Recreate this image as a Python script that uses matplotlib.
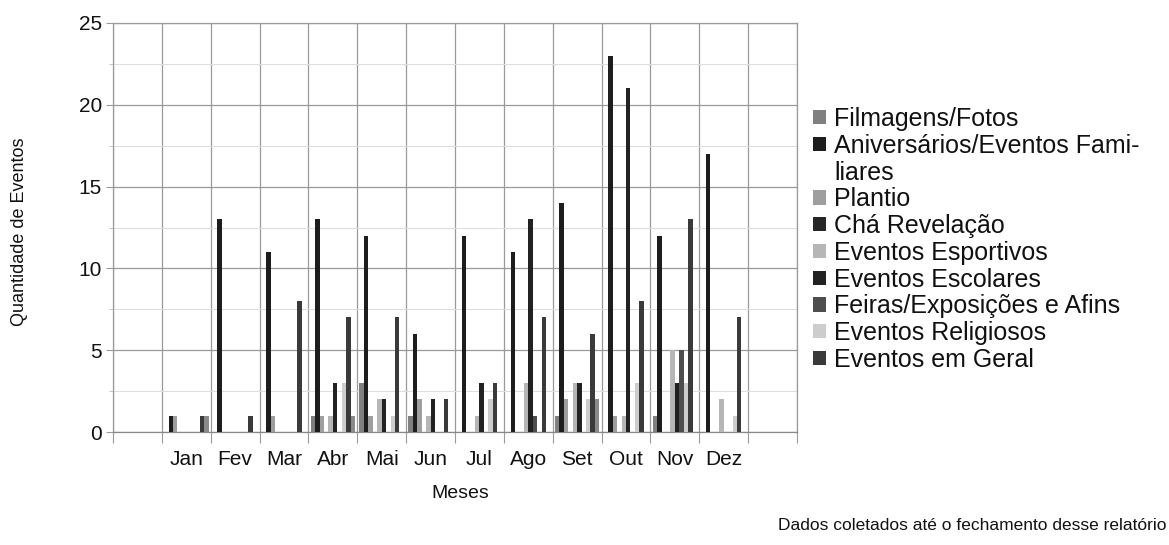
import numpy as np
import matplotlib
matplotlib.use("Agg")
import matplotlib.pyplot as plt
from matplotlib.patches import Rectangle

plt.rcParams['font.family'] = ['Liberation Sans', 'DejaVu Sans']

months = ["Jan", "Fev", "Mar", "Abr", "Mai", "Jun", "Jul", "Ago", "Set", "Out", "Nov", "Dez"]

series_names = ["Filmagens/Fotos", "Aniversários/Eventos Familiares", "Plantio", "Chá Revelação",
                "Eventos Esportivos", "Eventos Escolares", "Feiras/Exposições e Afins",
                "Eventos Religiosos", "Eventos em Geral"]

filmagens   = [0, 0, 0, 1, 3, 1, 0, 0, 1, 0, 1, 0]
aniversarios = [1, 13, 11, 13, 12, 6, 12, 11, 14, 23, 12, 17]
plantio     = [1, 0, 1, 1, 1, 2, 0, 0, 2, 1, 0, 0]
cha_revelacao = [0, 0, 0, 0, 0, 0, 0, 0, 0, 0, 0, 0]
esportivos  = [0, 0, 0, 1, 2, 1, 1, 3, 3, 1, 5, 2]
escolares   = [0, 0, 0, 3, 2, 2, 3, 13, 3, 21, 3, 0]
feiras      = [0, 0, 0, 0, 0, 0, 0, 1, 0, 0, 5, 0]
religiosos  = [0, 0, 0, 3, 1, 0, 2, 0, 2, 3, 3, 1]
geral       = [1, 1, 8, 7, 7, 2, 3, 7, 6, 8, 13, 7]
# a tenth, unlabeled series visible in the chart (not in the legend)
sem_legenda = [1, 0, 0, 1, 0, 0, 0, 0, 2, 0, 0, 0]

series_values = [filmagens, aniversarios, plantio, cha_revelacao, esportivos, escolares,
                 feiras, religiosos, geral, sem_legenda]
colors = ["#808080", "#1d1d1d", "#9e9e9e", "#262626", "#b6b6b6", "#222222",
          "#4e4e4e", "#cdcdcd", "#3a3a3a", "#8a8a8a"]

W, H = 1169, 545
fig = plt.figure(figsize=(W / 100, H / 100), dpi=100)
ax = fig.add_axes([113 / W, 1 - 432 / H, (797 - 113) / W, (432 - 23) / H])

x = np.arange(1, 13)
n = len(series_values)
w = 4.45 / 48.9
bars = []
for k, (vals, c) in enumerate(zip(series_values, colors)):
    b = ax.bar(x + (k - (n - 1) / 2) * w, vals, width=w, color=c, zorder=3, linewidth=0)
    bars.append(b)

ax.set_xlim(-0.5, 13.5)
ax.set_ylim(0, 25)

grid_c = "#9a9a9a"
ax.set_yticks(np.arange(0, 26, 5))
ax.set_yticks(np.arange(2.5, 25, 5), minor=True)
ax.set_xticks(np.arange(-0.5, 14, 1))
ax.set_xticklabels([])
ax.set_xticks(x, minor=True)
ax.set_xticklabels(months, minor=True, fontsize=15, color="#111111")
ax.tick_params(axis='x', which='major', length=8, color=grid_c, direction='out')
ax.tick_params(axis='x', which='minor', length=0, pad=13)
ax.tick_params(axis='y', which='major', length=5, color=grid_c, labelsize=15, pad=3, labelcolor="#111111")
ax.tick_params(axis='y', which='minor', length=3, color="#bbbbbb")

ax.grid(True, which='major', axis='both', color=grid_c, linewidth=0.9, zorder=0)
ax.grid(True, which='minor', axis='y', color="#dedede", linewidth=0.8, zorder=0)
for s in ax.spines.values():
    s.set_color(grid_c)
    s.set_linewidth(0.9)
ax.spines['bottom'].set_color("#888888")

fig.text(20 / W, 1 - 232 / H, "Quantidade de Eventos", rotation=90, ha='center', va='center',
         fontsize=13, color="#111111")
fig.text(460 / W, 1 - 493 / H, "Meses", ha='center', va='center', fontsize=14, color="#111111")
fig.text(1166 / W, 1 - 526 / H, "Dados coletados até o fechamento desse relatório",
         ha='right', va='center', fontsize=12.5, color="#111111")

handles = []
labels = []
for k in range(9):
    handles.append(bars[k].patches[0])
    if k == 1:
        labels.append("Aniversários/Eventos Fami-")
        handles.append(Rectangle((0, 0), 1, 1, alpha=0))
        labels.append("liares")
    else:
        labels.append(series_names[k])
leg = ax.legend(handles, labels, loc='upper left', bbox_to_anchor=(813 / W, 1 - 107 / H),
                bbox_transform=fig.transFigure, frameon=False, fontsize=18,
                handlelength=0.5, handleheight=0.5, handletextpad=0.35,
                labelspacing=0.11, borderaxespad=0, borderpad=0)
for t in leg.get_texts():
    t.set_color("#111111")

fig.savefig("out.png", dpi=100)
